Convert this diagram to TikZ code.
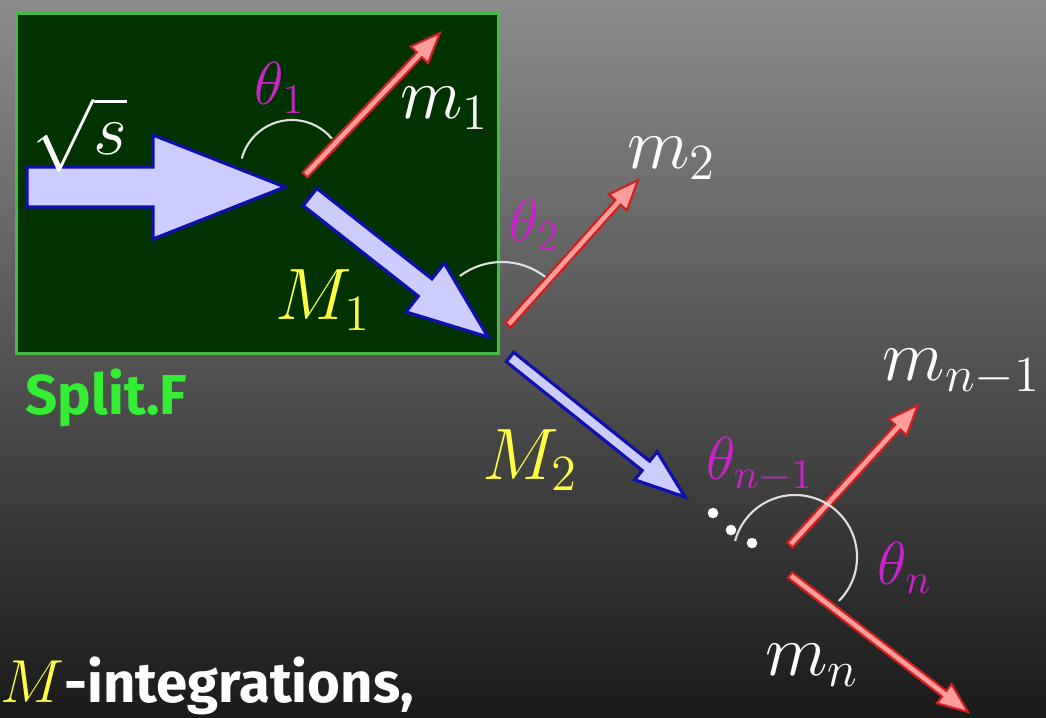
\documentclass[tikz,border=0pt]{standalone}
\usepackage{fontspec}
\setsansfont{Fira Sans}
\usepackage{tikz}
\usetikzlibrary{calc,positioning}
\definecolor{bgTop}{HTML}{8C8C8C}
\definecolor{bgBot}{HTML}{1A1A1A}
\definecolor{boxFill}{HTML}{003300}
\definecolor{boxEdge}{HTML}{44BB44}
\definecolor{arrFill}{HTML}{CCCCFF}
\definecolor{arrEdge}{HTML}{1010B0}
\definecolor{pinkFill}{HTML}{FF9C9C}
\definecolor{pinkEdge}{HTML}{D02020}
\definecolor{labMag}{HTML}{CC22CC}
\definecolor{labYel}{HTML}{FFFF44}
\definecolor{splitCol}{HTML}{33EE33}
\tikzset{
  splitbox/.style={draw=boxEdge, fill=boxFill, line width=0.9pt, inner sep=0pt},
  bigarrow/.style={draw=arrEdge, fill=arrFill, line width=0.9pt, line join=miter},
  daughter/.style={draw=pinkEdge, fill=pinkFill, line width=0.6pt, line join=miter},
  anglearc/.style={draw=white!88!black, line width=0.6pt},
  mlbl/.style={text=white, font=\huge, inner sep=1pt},
  Mlbl/.style={text=labYel, font=\huge, inner sep=1pt},
  thlbl/.style={text=labMag, font=\LARGE, inner sep=1pt},
  dotpt/.style={fill=white, circle, inner sep=0pt, minimum size=3pt},
  boxlbl/.style={text=splitCol, font=\fontsize{16}{19}\selectfont\sffamily\bfseries, inner sep=0pt},
}
% arrow as a closed outline: [style]{from}{to}{half shaft}{half head}{head length}
\newcommand{\polyarr}[6][]{%
  \coordinate (hb) at ($(#3)!#6!(#2)$);
  \draw[#1] ($(#2)!#4!90:(#3)$) -- ($(hb)!#4!-90:(#2)$) -- ($(hb)!#5!-90:(#2)$) -- (#3)
    -- ($(hb)!#5!90:(#2)$) -- ($(hb)!#4!90:(#2)$) -- ($(#2)!#4!-90:(#3)$) -- cycle;}
\newcommand{\thetaarc}[4]{\draw[anglearc] ($(#1)+(#2:#4)$) arc[start angle=#2, end angle=#3, radius=#4];}

\begin{document}
\begin{tikzpicture}[x=0.01cm,y=-0.01cm]
  \useasboundingbox (0,0) rectangle (1046,717);
  \clip (0,0) rectangle (1046,717);
  \shade[top color=bgTop, bottom color=bgBot] (0,0) rectangle (1046,717);

  \node[splitbox, minimum width=4.82cm, minimum height=3.40cm, anchor=north west] (box) at (15,12) {};
  \node[boxlbl, anchor=north west] (boxname) at (25,368) {Split.F};

  % incoming and intermediate masses
  \coordinate (sIn)  at (27,187);  \coordinate (sTip)  at (285,187);
  \coordinate (M1in) at (310,197); \coordinate (M1tip) at (488,337);
  \coordinate (M2in) at (510,357); \coordinate (M2tip) at (685,497);
  \polyarr[bigarrow]{sIn}{sTip}{0.20cm}{0.52cm}{1.32cm}
  \polyarr[bigarrow]{M1in}{M1tip}{0.11cm}{0.31cm}{0.80cm}
  \polyarr[bigarrow]{M2in}{M2tip}{0.06cm}{0.18cm}{0.50cm}

  % daughters
  \coordinate (d1a) at (305,175); \coordinate (d1b) at (440,33);
  \coordinate (d2a) at (508,325); \coordinate (d2b) at (638,180);
  \coordinate (d3a) at (790,545); \coordinate (d3b) at (918,405);
  \coordinate (d4a) at (790,575); \coordinate (d4b) at (968,712);
  \foreach \d in {d1,d2,d3,d4}{\polyarr[daughter]{\d a}{\d b}{0.035cm}{0.12cm}{0.30cm}}

  % opening angles
  \coordinate (c1) at (292,172); \coordinate (c2) at (502,332); \coordinate (cn) at (795,557);
  \thetaarc{c1}{40}{165}{0.52cm}
  \thetaarc{c2}{52}{127}{0.70cm}
  \thetaarc{cn}{-45}{165}{0.62cm}

  \node[dotpt] (dt1) at (713,513) {};
  \node[dotpt] (dt2) at (731,530) {};
  \node[dotpt] (dt3) at (752,543) {};

  \node[mlbl] (ls)   at (80,135)  {$\sqrt{s}$};
  \node[thlbl] (lt1) at (280,88)  {$\theta_1$};
  \node[mlbl] (lm1)  at (445,108) {$m_1$};
  \node[Mlbl] (lM1)  at (323,300) {$M_1$};
  \node[mlbl] (lm2)  at (672,158) {$m_2$};
  \node[thlbl] (lt2) at (535,225) {$\theta_2$};
  \node[Mlbl] (lM2)  at (530,460) {$M_2$};
  \node[thlbl] (ltn1) at (760,465) {$\theta_{n-1}$};
  \node[mlbl, anchor=east] (lmn1) at (1045,372) {$m_{n-1}$};
  \node[thlbl] (ltn) at (905,568) {$\theta_n$};
  \node[mlbl] (lmn)  at (812,665) {$m_n$};

  \node[anchor=base west, inner sep=0pt, text=white,
        font=\fontsize{16}{19}\selectfont\sffamily\bfseries] (integ) at (0,702)
        {\textcolor{labYel}{$M$}-integrations,};
\end{tikzpicture}
\end{document}
